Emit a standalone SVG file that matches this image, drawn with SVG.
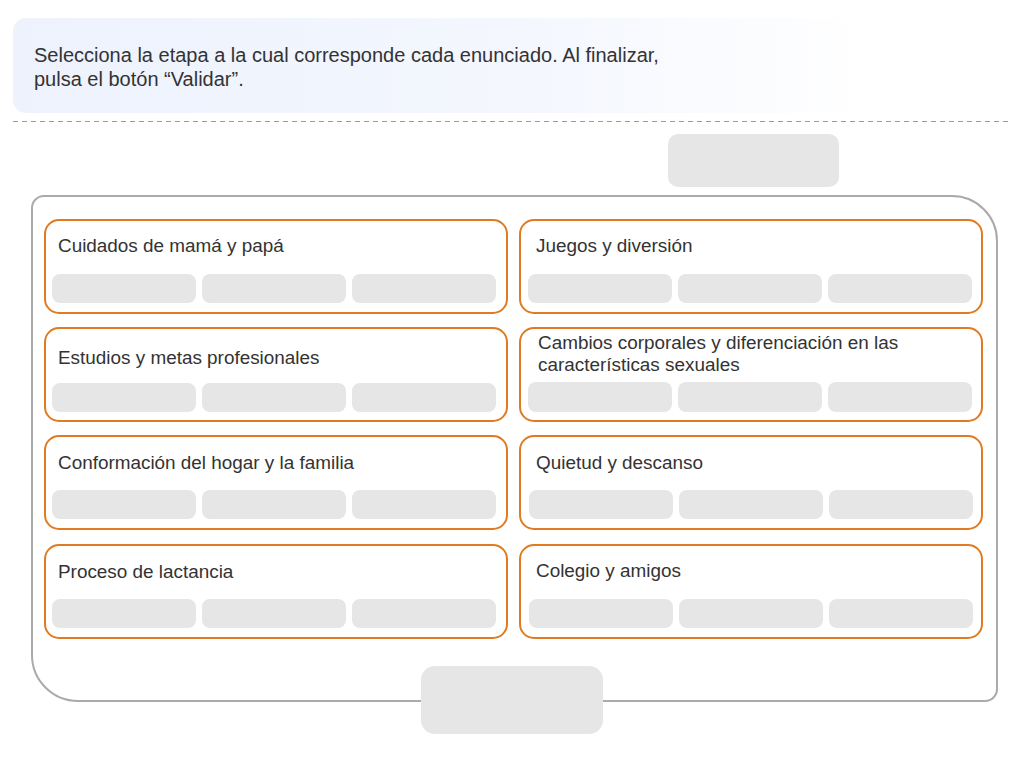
<svg xmlns="http://www.w3.org/2000/svg" width="1024" height="768" viewBox="0 0 1024 768">
<defs>
<linearGradient id="hdr" x1="0" y1="0" x2="1" y2="0">
<stop offset="0" stop-color="#edf2fd"/>
<stop offset="0.6" stop-color="#f4f7fe"/>
<stop offset="1" stop-color="#ffffff"/>
</linearGradient>
</defs>
<style>
.txt{font-family:"Liberation Sans",Arial,sans-serif;fill:#333333}
.h{font-size:20px}
.c{font-size:18.9px}
.card{fill:#ffffff;stroke:#e07b22;stroke-width:2}
.slot{fill:#e6e6e6}
</style>
<rect width="1024" height="768" fill="#ffffff"/>
<g id="header">
<rect x="13" y="18" width="860" height="95" rx="13" fill="url(#hdr)"/>
<text class="txt h" x="34" y="62">Selecciona la etapa a la cual corresponde cada enunciado. Al finalizar,</text>
<text class="txt h" x="34" y="86">pulsa el botón “Validar”.</text>
</g>
<line x1="13" y1="121.5" x2="1012" y2="121.5" stroke="#9a9a9a" stroke-width="1" stroke-dasharray="5,4"/>
<g id="top-button"><rect x="668" y="134" width="171" height="53" rx="10" class="slot"/></g>
<g id="container">
<path d="M44 196 H952 A45 45 0 0 1 997 241 V689 A12 12 0 0 1 985 701 H78 A46 46 0 0 1 32 655 V208 A12 12 0 0 1 44 196 Z" fill="#ffffff" stroke="#aaaaaa" stroke-width="2"/>
</g>
<g id="bottom-button"><rect x="421" y="666" width="182" height="68" rx="14" class="slot"/></g>

<g id="card1">
<rect x="45" y="220" width="462" height="93" rx="14" class="card"/>
<text class="txt c" x="58" y="252">Cuidados de mamá y papá</text>
<rect x="52" y="274" width="144" height="29" rx="8" class="slot"/>
<rect x="202" y="274" width="144" height="29" rx="8" class="slot"/>
<rect x="352" y="274" width="144" height="29" rx="8" class="slot"/>
</g>
<g id="card2">
<rect x="520" y="220" width="462" height="93" rx="14" class="card"/>
<text class="txt c" x="536" y="252">Juegos y diversión</text>
<rect x="528" y="274" width="144" height="29" rx="8" class="slot"/>
<rect x="678" y="274" width="144" height="29" rx="8" class="slot"/>
<rect x="828" y="274" width="144" height="29" rx="8" class="slot"/>
</g>
<g id="card3">
<rect x="45" y="328" width="462" height="93" rx="14" class="card"/>
<text class="txt c" x="58" y="364">Estudios y metas profesionales</text>
<rect x="52" y="383" width="144" height="29" rx="8" class="slot"/>
<rect x="202" y="383" width="144" height="29" rx="8" class="slot"/>
<rect x="352" y="383" width="144" height="29" rx="8" class="slot"/>
</g>
<g id="card4">
<rect x="520" y="328" width="462" height="93" rx="14" class="card"/>
<text class="txt c" x="538" y="349">Cambios corporales y diferenciación en las</text>
<text class="txt c" x="538" y="371">características sexuales</text>
<rect x="528" y="382" width="144" height="30" rx="8" class="slot"/>
<rect x="678" y="382" width="144" height="30" rx="8" class="slot"/>
<rect x="828" y="382" width="144" height="30" rx="8" class="slot"/>
</g>
<g id="card5">
<rect x="45" y="436" width="462" height="93" rx="14" class="card"/>
<text class="txt c" x="58" y="469">Conformación del hogar y la familia</text>
<rect x="52" y="490" width="144" height="29" rx="8" class="slot"/>
<rect x="202" y="490" width="144" height="29" rx="8" class="slot"/>
<rect x="352" y="490" width="144" height="29" rx="8" class="slot"/>
</g>
<g id="card6">
<rect x="520" y="436" width="462" height="93" rx="14" class="card"/>
<text class="txt c" x="536" y="469">Quietud y descanso</text>
<rect x="529" y="490" width="144" height="29" rx="8" class="slot"/>
<rect x="679" y="490" width="144" height="29" rx="8" class="slot"/>
<rect x="829" y="490" width="144" height="29" rx="8" class="slot"/>
</g>
<g id="card7">
<rect x="45" y="545" width="462" height="93" rx="14" class="card"/>
<text class="txt c" x="58" y="578">Proceso de lactancia</text>
<rect x="52" y="599" width="144" height="29" rx="8" class="slot"/>
<rect x="202" y="599" width="144" height="29" rx="8" class="slot"/>
<rect x="352" y="599" width="144" height="29" rx="8" class="slot"/>
</g>
<g id="card8">
<rect x="520" y="545" width="462" height="93" rx="14" class="card"/>
<text class="txt c" x="536" y="577">Colegio y amigos</text>
<rect x="529" y="599" width="144" height="29" rx="8" class="slot"/>
<rect x="679" y="599" width="144" height="29" rx="8" class="slot"/>
<rect x="829" y="599" width="144" height="29" rx="8" class="slot"/>
</g>
<g id="connectors"/>
</svg>
